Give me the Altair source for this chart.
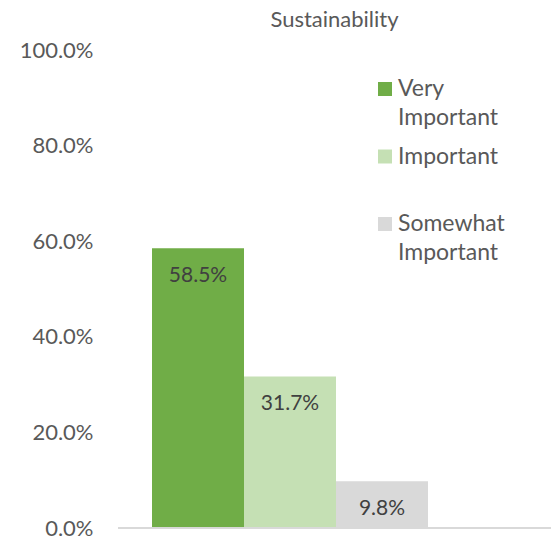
import altair as alt
import pandas as pd

categories = ["Very Important", "Important", "Somewhat Important"]
values = [0.585, 0.317, 0.098]
colors = ["#70AD47", "#C5E0B4", "#D9D9D9"]
title_text = "Sustainability"
y_ticks = [0, 0.2, 0.4, 0.6, 0.8, 1.0]

df = pd.DataFrame({"category": categories, "value": values})

FONT = "Lato"
W, H = 433, 478

x = alt.X(
    "category:N",
    sort=categories,
    axis=None,
    scale=alt.Scale(domain=categories, range=[34, 310], paddingInner=0, paddingOuter=0),
)
y = alt.Y(
    "value:Q",
    scale=alt.Scale(domain=[0, 1]),
    axis=alt.Axis(
        values=y_ticks, format=".1%", title=None, grid=False, domain=False,
        ticks=False, labelFont=FONT, labelFontSize=22, labelColor="#595959",
        labelPadding=25,
    ),
)
color = alt.Color("category:N", sort=categories,
                  scale=alt.Scale(domain=categories, range=colors), legend=None)

bars = alt.Chart(df).mark_bar().encode(x=x, y=y, color=color)
labels = alt.Chart(df).mark_text(dy=28, font=FONT, fontSize=21, color="#404040").encode(
    x=x, y=y, text=alt.Text("value:Q", format=".1%")
)
base = alt.Chart(df).mark_rule(color="#D9D9D9", strokeWidth=1.5).encode(y=alt.datum(0))

main = alt.layer(bars, labels, base)

# legend drawn as marks (rows placed by a point scale)
ly = alt.Y("category:N", sort=categories, axis=None,
           scale=alt.Scale(domain=categories, range=[39, 174], padding=0))
leg_sq = alt.Chart(df).mark_square(size=196, opacity=1).encode(
    x=alt.value(267), y=ly, color=color
)
leg_tx = alt.Chart(df).mark_text(
    align="left", baseline="middle", lineBreak=" ", lineHeight=29,
    font=FONT, fontSize=23, color="#595959",
).encode(x=alt.value(280), y=ly, text="category:N")
leg = alt.layer(leg_sq, leg_tx)

chart = alt.layer(main, leg).resolve_scale(y="independent").resolve_axis(y="independent").properties(
    width=W, height=H,
    title=alt.TitleParams(title_text, font=FONT, fontSize=22, color="#595959",
                          fontWeight="normal", anchor="middle", offset=7),
    autosize=alt.AutoSizeParams(type="none"),
    padding={"left": 110, "top": 42, "right": 0, "bottom": 12},
).configure_view(stroke=None)

chart.save("out.html", embed_options={"renderer": "svg", "actions": False})
